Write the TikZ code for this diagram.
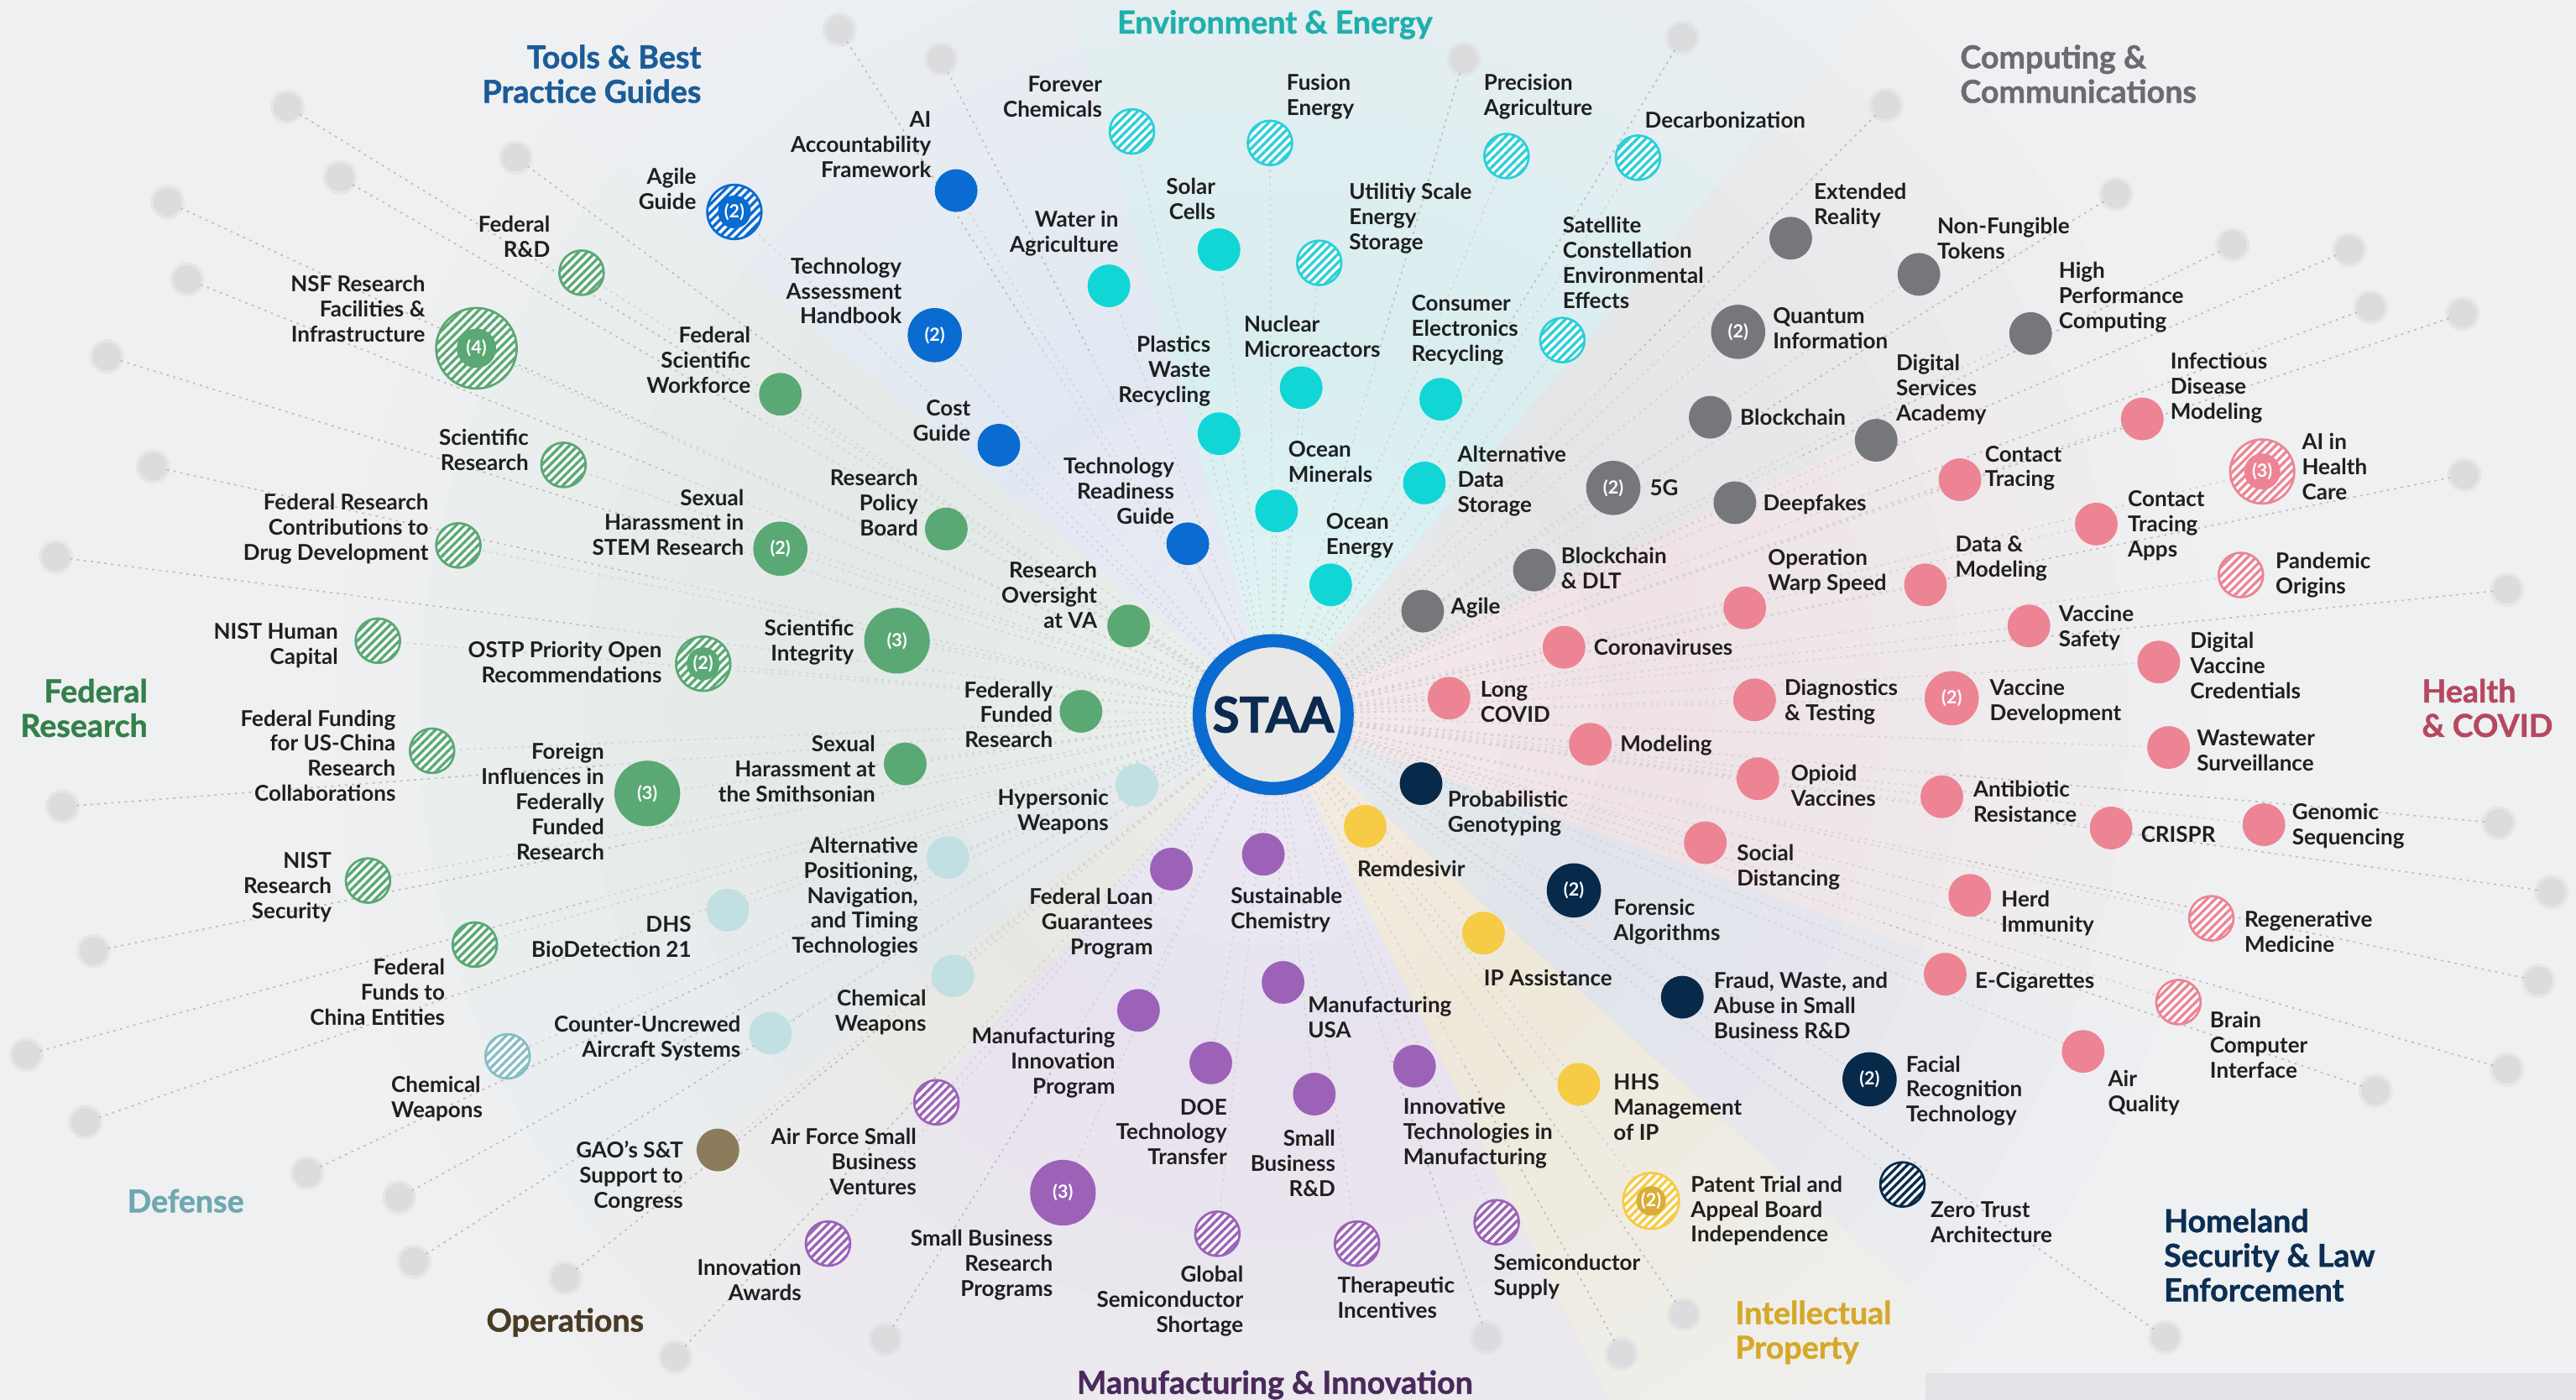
\documentclass[tikz,border=0pt]{standalone}
\usepackage{fontspec}
\setmainfont{Lato}
\newfontfamily\heavy{Lato}[BoldFeatures={FakeBold=1.2}]
\usetikzlibrary{patterns.meta,calc}
\definecolor{bgc}{HTML}{EFF0F2}
\definecolor{barc}{HTML}{E2E3E6}
\definecolor{txt}{HTML}{1F1F1F}
\definecolor{rayc}{HTML}{BCBDC0}
\definecolor{rayl}{HTML}{D2D3D6}
\definecolor{blobc}{HTML}{DCDCDF}
\definecolor{tblue}{HTML}{0A6BD0}
\definecolor{env}{HTML}{12D6D6}
\definecolor{envh}{HTML}{2CCFD8}
\definecolor{comp}{HTML}{76777B}
\definecolor{fr}{HTML}{5AA874}
\definecolor{hc}{HTML}{EC8494}
\definecolor{def}{HTML}{C2DFE3}
\definecolor{defh}{HTML}{86BCC5}
\definecolor{ops}{HTML}{8C7B5B}
\definecolor{mfg}{HTML}{9C62B8}
\definecolor{ip}{HTML}{F6CB45}
\definecolor{ipd}{HTML}{D9AE36}
\definecolor{hs}{HTML}{07294A}
\definecolor{staa}{HTML}{0B2A4F}
\definecolor{tTools}{HTML}{1B5C97}
\definecolor{tEnv}{HTML}{1FB0AD}
\definecolor{tComp}{HTML}{6B6C70}
\definecolor{tFR}{HTML}{33804A}
\definecolor{tHC}{HTML}{B5485F}
\definecolor{tDef}{HTML}{6EA8B1}
\definecolor{tOps}{HTML}{4A3B25}
\definecolor{tMfg}{HTML}{4A2A5C}
\definecolor{tIP}{HTML}{D6A829}
\definecolor{tHS}{HTML}{0B2E52}
\definecolor{wEnv}{HTML}{B8EEF0}
\definecolor{wTools}{HTML}{D3E2F2}
\definecolor{wFR}{HTML}{D5EADB}
\definecolor{wDef}{HTML}{D3E7EA}
\definecolor{wOps}{HTML}{E6DDCE}
\definecolor{wMfg}{HTML}{E6D3EE}
\definecolor{wIP}{HTML}{F5E6B5}
\definecolor{wHS}{HTML}{CCD5E0}
\definecolor{wHC}{HTML}{F6D3D9}
\definecolor{wComp}{HTML}{D5D6D9}
\newcommand\lf{\fontsize{13.3}{15.3}\selectfont\bfseries}
\newcommand\tf{\fontsize{19.2}{21}\selectfont\heavy\bfseries}
\newcommand\cf{\fontsize{11}{12}\selectfont\bfseries}
\newcommand\mywedge[3]{%
  \foreach \rr in {570,520,...,120}{%
    \fill[#1,opacity=0.055] (775,435) -- ++({-#2}:\rr) arc[start angle={-#2}, end angle={-#3}, radius=\rr] -- cycle;}}
\pgfdeclarelayer{back}
\pgfdeclarelayer{bg}
\pgfsetlayers{back,bg,main}
\tikzset{
  dot/.style={circle, inner sep=0pt, minimum size=26pt, fill=#1},
  hat/.style={circle, inner sep=0pt, minimum size=27pt, draw=#1, line width=1.4pt,
    preaction={fill=white},
    preaction={pattern={Lines[angle=45,distance=3.6pt,line width=1.7pt]}, pattern color=#1}},
  cnt/.style={text=white, font=\cf},
  lbL/.style={anchor=west, align=left, inner sep=0pt, font=\lf, text=txt},
  lbR/.style={anchor=east, align=right, inner sep=0pt, font=\lf, text=txt},
  ttl/.style={inner sep=0pt, font=\tf},
  ray/.style={draw=rayc, dash pattern=on 1.4pt off 2.8pt, line width=0.85pt},
  rayfaint/.style={draw=rayl, dash pattern=on 1.4pt off 2.8pt, line width=0.8pt},
  blob/.style={circle, inner sep=0pt, minimum size=17pt, fill=blobc,
    preaction={draw=blobc, line width=4pt, opacity=0.45}},
}
\begin{document}
\begin{tikzpicture}[x=1pt,y=-1pt]
\useasboundingbox (0,0) rectangle (1568,852);
\begin{pgfonlayer}{back}
\fill[bgc] (0,0) rectangle (1568,852);
\fill[barc] (1172,836) rectangle (1568,852);
\mywedge{wEnv}{50}{106}
\mywedge{wTools}{106}{140}
\mywedge{wFR}{140}{200}
\mywedge{wDef}{200}{217}
\mywedge{wOps}{217}{228}
\mywedge{wMfg}{228}{296}
\mywedge{wIP}{296}{318}
\mywedge{wHS}{318}{340}
\mywedge{wHC}{340}{385}
\mywedge{wComp}{25}{50}
\foreach \rr in {200,170,...,80}{\fill[white,opacity=0.08] (775,435) circle[radius=\rr];}
\end{pgfonlayer}

% centre
\node[circle, inner sep=0pt, minimum size=90pt, fill=black!9, draw=tblue, line width=8pt,
  text=staa, font=\fontsize{30}{31}\selectfont\heavy\bfseries] (c) at (775,435) {STAA};

% titles
\node[ttl, anchor=east, align=right, text=tTools] (T1) at (427,45) {Tools \& Best\\Practice Guides};
\node[ttl, text=tEnv] (T2) at (776,15) {Environment \& Energy};
\node[ttl, anchor=west, align=left, text=tComp] (T3) at (1193,45) {Computing \&\\Communications};
\node[ttl, anchor=east, align=right, text=tFR] (T4) at (90,431) {Federal\\Research};
\node[ttl, anchor=west, align=left, text=tHC] (T5) at (1474,431) {Health\\\& COVID};
\node[ttl, text=tDef] (T6) at (113,731) {Defense};
\node[ttl, text=tOps] (T7) at (344,805) {Operations};
\node[ttl, text=tMfg] (T8) at (776,843) {Manufacturing \& Innovation};
\node[ttl, anchor=west, align=left, text=tIP] (T9) at (1056,811) {Intellectual\\Property};
\node[ttl, anchor=west, align=left, text=tHS] (T10) at (1317,764) {Homeland\\Security \& Law\\Enforcement};

% Tools
\node[dot=tblue] (t1) at (582,116) {};
\node[lbR] (t1l) at (567,88) {AI\\Accountability\\Framework};
\node[hat=tblue, minimum size=33pt] (t2) at (447,129) {};
\node[dot=tblue, minimum size=20pt, cnt] (t2c) at (t2) {(2)};
\node[lbR] (t2l) at (424,115) {Agile\\Guide};
\node[dot=tblue, minimum size=33pt, cnt] (t3) at (569,204) {(2)};
\node[lbR] (t3l) at (549,177) {Technology\\Assessment\\Handbook};
\node[dot=tblue] (t4) at (608,271) {};
\node[lbR] (t4l) at (591,256) {Cost\\Guide};
\node[dot=tblue] (t5) at (723,331) {};
\node[lbR] (t5l) at (715,299) {Technology\\Readiness\\Guide};

% Federal research
\node[hat=fr] (f1) at (354,166) {};
\node[lbR] (f1l) at (335,144) {Federal\\R\&D};
\node[hat=fr, minimum size=49pt] (f2) at (290,212) {};
\node[dot=fr, minimum size=24pt, cnt] (f2c) at (f2) {(4)};
\node[lbR] (f2l) at (259,188) {NSF Research\\Facilities \&\\Infrastructure};
\node[dot=fr] (f3) at (475,240) {};
\node[lbR] (f3l) at (457,219) {Federal\\Scientific\\Workforce};
\node[hat=fr] (f4) at (343,283) {};
\node[lbR] (f4l) at (322,274) {Scientific\\Research};
\node[hat=fr] (f5) at (279,332) {};
\node[lbR] (f5l) at (261,322) {Federal Research\\Contributions to\\Drug Development};
\node[dot=fr, minimum size=33pt, cnt] (f6) at (475,334) {(2)};
\node[lbR] (f6l) at (453,318) {Sexual\\Harassment in\\STEM Research};
\node[dot=fr] (f7) at (576,322) {};
\node[lbR] (f7l) at (559,306) {Research\\Policy\\Board};
\node[hat=fr] (f8) at (230,390) {};
\node[lbR] (f8l) at (206,393) {NIST Human\\Capital};
\node[hat=fr, minimum size=33pt] (f9) at (428,404) {};
\node[dot=fr, minimum size=20pt, cnt] (f9c) at (f9) {(2)};
\node[lbR] (f9l) at (403,403) {OSTP Priority Open\\Recommendations};
\node[dot=fr, minimum size=40pt, cnt] (f10) at (546,390) {(3)};
\node[lbR] (f10l) at (520,391) {Scientific\\Integrity};
\node[dot=fr] (f11) at (687,381) {};
\node[lbR] (f11l) at (668,362) {Research\\Oversight\\at VA};
\node[hat=fr] (f12) at (263,457) {};
\node[lbR] (f12l) at (241,460) {Federal Funding\\for US-China\\Research\\Collaborations};
\node[dot=fr, minimum size=40pt, cnt] (f13) at (394,483) {(3)};
\node[lbR] (f13l) at (368,488) {Foreign\\Influences in\\Federally\\Funded\\Research};
\node[dot=fr] (f14) at (658,433) {};
\node[lbR] (f14l) at (641,435) {Federally\\Funded\\Research};
\node[dot=fr] (f15) at (551,465) {};
\node[lbR] (f15l) at (533,468) {Sexual\\Harassment at\\the Smithsonian};
\node[hat=fr] (f16) at (224,536) {};
\node[lbR] (f16l) at (202,540) {NIST\\Research\\Security};
\node[hat=fr] (f17) at (289,575) {};
\node[lbR] (f17l) at (271,604) {Federal\\Funds to\\China Entities};

% Defense
\node[dot=def] (d1) at (692,478) {};
\node[lbR] (d1l) at (675,494) {Hypersonic\\Weapons};
\node[dot=def] (d2) at (577,522) {};
\node[lbR] (d2l) at (559,546) {Alternative\\Positioning,\\Navigation,\\and Timing\\Technologies};
\node[dot=def] (d3) at (443,554) {};
\node[lbR] (d3l) at (421,570) {DHS\\BioDetection 21};
\node[dot=def] (d4) at (580,594) {};
\node[lbR] (d4l) at (564,616) {Chemical\\Weapons};
\node[dot=def] (d5) at (469,629) {};
\node[lbR] (d5l) at (451,632) {Counter-Uncrewed\\Aircraft Systems};
\node[hat=defh] (d6) at (309,643) {};
\node[lbL] (d6l) at (238,669) {Chemical\\Weapons};

% Operations
\node[dot=ops] (o1) at (437,700) {};
\node[lbR] (o1l) at (416,716) {GAO's S\&T\\Support to\\Congress};

% Manufacturing
\node[hat=mfg] (m1) at (570,671) {};
\node[lbR] (m1l) at (558,707) {Air Force Small\\Business\\Ventures};
\node[hat=mfg] (m2) at (504,757) {};
\node[lbR] (m2l) at (488,779) {Innovation\\Awards};
\node[dot=mfg] (m3) at (713,529) {};
\node[lbR] (m3l) at (702,562) {Federal Loan\\Guarantees\\Program};
\node[dot=mfg] (m4) at (769,520) {};
\node[lbL] (m4l) at (749,554) {Sustainable\\Chemistry};
\node[dot=mfg] (m5) at (693,615) {};
\node[lbR] (m5l) at (679,647) {Manufacturing\\Innovation\\Program};
\node[dot=mfg] (m6) at (781,598) {};
\node[lbL] (m6l) at (796,619) {Manufacturing\\USA};
\node[dot=mfg] (m7) at (737,647) {};
\node[lbR] (m7l) at (747,689) {DOE\\Technology\\Transfer};
\node[dot=mfg] (m8) at (800,666) {};
\node[lbR] (m8l) at (813,708) {Small\\Business\\R\&D};
\node[dot=mfg] (m9) at (861,649) {};
\node[lbL] (m9l) at (854,690) {Innovative\\Technologies in\\Manufacturing};
\node[dot=mfg, minimum size=40pt, cnt] (m10) at (647,726) {(3)};
\node[lbR] (m10l) at (641,770) {Small Business\\Research\\Programs};
\node[hat=mfg] (m11) at (741,751) {};
\node[lbR] (m11l) at (757,792) {Global\\Semiconductor\\Shortage};
\node[hat=mfg] (m12) at (826,757) {};
\node[lbL] (m12l) at (814,790) {Therapeutic\\Incentives};
\node[hat=mfg] (m13) at (911,744) {};
\node[lbL] (m13l) at (909,777) {Semiconductor\\Supply};

% Intellectual property
\node[dot=ip] (i1) at (831,503) {};
\node[lbL] (i1l) at (826,529) {Remdesivir};
\node[dot=ip] (i2) at (903,568) {};
\node[lbL] (i2l) at (903,595) {IP Assistance};
\node[dot=ip] (i3) at (961,660) {};
\node[lbL] (i3l) at (982,674) {HHS\\Management\\of IP};
\node[hat=ip, minimum size=34pt] (i4) at (1005,731) {};
\node[dot=ipd, minimum size=18pt, cnt] (i4c) at (i4) {(2)};
\node[lbL] (i4l) at (1029,737) {Patent Trial and\\Appeal Board\\Independence};

% Homeland security
\node[dot=hs] (h1) at (865,477) {};
\node[lbL] (h1l) at (881,495) {Probabilistic\\Genotyping};
\node[dot=hs, minimum size=33pt, cnt] (h2) at (958,542) {(2)};
\node[lbL] (h2l) at (982,561) {Forensic\\Algorithms};
\node[dot=hs] (h3) at (1024,607) {};
\node[lbL] (h3l) at (1043,612) {Fraud, Waste, and\\Abuse in Small\\Business R\&D};
\node[dot=hs, minimum size=33pt, cnt] (h4) at (1138,657) {(2)};
\node[lbL] (h4l) at (1160,664) {Facial\\Recognition\\Technology};
\node[hat=hs] (h5) at (1158,721) {};
\node[lbL] (h5l) at (1175,744) {Zero Trust\\Architecture};

% Health & COVID
\node[dot=hc] (c1) at (952,394) {};
\node[lbL] (c1l) at (970,394) {Coronaviruses};
\node[dot=hc] (c2) at (882,425) {};
\node[lbL] (c2l) at (901,427) {Long\\COVID};
\node[dot=hc] (c3) at (968,453) {};
\node[lbL] (c3l) at (986,454) {Modeling};
\node[dot=hc] (c4) at (1062,370) {};
\node[lbL] (c4l) at (1076,348) {Operation\\Warp Speed};
\node[dot=hc] (c5) at (1068,426) {};
\node[lbL] (c5l) at (1086,427) {Diagnostics\\\& Testing};
\node[dot=hc] (c6) at (1070,474) {};
\node[lbL] (c6l) at (1090,478) {Opioid\\Vaccines};
\node[dot=hc] (c7) at (1038,513) {};
\node[lbL] (c7l) at (1057,528) {Social\\Distancing};
\node[dot=hc] (c8) at (1193,292) {};
\node[lbL] (c8l) at (1208,285) {Contact\\Tracing};
\node[dot=hc] (c9) at (1172,356) {};
\node[lbL] (c9l) at (1190,340) {Data \&\\Modeling};
\node[dot=hc] (c10) at (1235,381) {};
\node[lbL] (c10l) at (1253,382) {Vaccine\\Safety};
\node[dot=hc, minimum size=33pt, cnt] (c11) at (1188,425) {(2)};
\node[lbL] (c11l) at (1211,427) {Vaccine\\Development};
\node[dot=hc] (c12) at (1182,485) {};
\node[lbL] (c12l) at (1201,488) {Antibiotic\\Resistance};
\node[dot=hc] (c13) at (1199,545) {};
\node[lbL] (c13l) at (1218,556) {Herd\\Immunity};
\node[dot=hc] (c14) at (1184,593) {};
\node[lbL] (c14l) at (1202,598) {E-Cigarettes};
\node[dot=hc] (c15) at (1268,640) {};
\node[lbL] (c15l) at (1283,665) {Air\\Quality};
\node[dot=hc] (c16) at (1304,255) {};
\node[lbL] (c16l) at (1321,236) {Infectious\\Disease\\Modeling};
\node[hat=hc, minimum size=39pt] (c17) at (1377,287) {};
\node[dot=hc, minimum size=22pt, cnt] (c17c) at (c17) {(3)};
\node[lbL] (c17l) at (1401,284) {AI in\\Health\\Care};
\node[dot=hc] (c18) at (1276,319) {};
\node[lbL] (c18l) at (1295,320) {Contact\\Tracing\\Apps};
\node[hat=hc] (c19) at (1364,350) {};
\node[lbL] (c19l) at (1385,350) {Pandemic\\Origins};
\node[dot=hc] (c20) at (1314,403) {};
\node[lbL] (c20l) at (1333,405) {Digital\\Vaccine\\Credentials};
\node[dot=hc] (c21) at (1320,455) {};
\node[lbL] (c21l) at (1337,457) {Wastewater\\Surveillance};
\node[dot=hc] (c22) at (1285,504) {};
\node[lbL] (c22l) at (1303,508) {CRISPR};
\node[dot=hc] (c23) at (1378,502) {};
\node[lbL] (c23l) at (1395,503) {Genomic\\Sequencing};
\node[hat=hc] (c24) at (1346,559) {};
\node[lbL] (c24l) at (1366,567) {Regenerative\\Medicine};
\node[hat=hc] (c25) at (1326,610) {};
\node[lbL] (c25l) at (1345,636) {Brain\\Computer\\Interface};

% Computing
\node[dot=comp] (p1) at (866,372) {};
\node[lbL] (p1l) at (883,370) {Agile};
\node[dot=comp] (p2) at (934,347) {};
\node[lbL] (p2l) at (950,346) {Blockchain\\\& DLT};
\node[dot=comp, minimum size=33pt, cnt] (p3) at (982,297) {(2)};
\node[lbL] (p3l) at (1004,297) {5G};
\node[dot=comp] (p4) at (1056,306) {};
\node[lbL] (p4l) at (1073,307) {Deepfakes};
\node[dot=comp] (p5) at (1041,254) {};
\node[lbL] (p5l) at (1059,254) {Blockchain};
\node[dot=comp, minimum size=33pt, cnt] (p6) at (1058,202) {(2)};
\node[lbL] (p6l) at (1079,200) {Quantum\\Information};
\node[dot=comp] (p7) at (1142,268) {};
\node[lbL] (p7l) at (1154,237) {Digital\\Services\\Academy};
\node[dot=comp] (p8) at (1090,145) {};
\node[lbL] (p8l) at (1104,125) {Extended\\Reality};
\node[dot=comp] (p9) at (1168,167) {};
\node[lbL] (p9l) at (1179,145) {Non-Fungible\\Tokens};
\node[dot=comp] (p10) at (1236,203) {};
\node[lbL] (p10l) at (1253,181) {High\\Performance\\Computing};

% Environment & energy
\node[hat=envh] (e1) at (689,80) {};
\node[lbR] (e1l) at (671,59) {Forever\\Chemicals};
\node[hat=envh] (e2) at (773,87) {};
\node[lbL] (e2l) at (783,59) {Fusion\\Energy};
\node[hat=envh] (e3) at (917,95) {};
\node[lbL] (e3l) at (903,59) {Precision\\Agriculture};
\node[hat=envh] (e4) at (997,96) {};
\node[lbL] (e4l) at (1001,73) {Decarbonization};
\node[dot=env] (e5) at (742,152) {};
\node[lbR] (e5l) at (740,121) {Solar\\Cells};
\node[dot=env] (e6) at (675,174) {};
\node[lbR] (e6l) at (681,142) {Water in\\Agriculture};
\node[hat=envh] (e7) at (803,160) {};
\node[lbL] (e7l) at (821,133) {Utilitiy Scale\\Energy\\Storage};
\node[hat=envh] (e8) at (951,207) {};
\node[lbL] (e8l) at (951,160) {Satellite\\Constellation\\Environmental\\Effects};
\node[dot=env] (e9) at (792,236) {};
\node[lbL] (e9l) at (757,205) {Nuclear\\Microreactors};
\node[dot=env] (e10) at (877,243) {};
\node[lbL] (e10l) at (859,201) {Consumer\\Electronics\\Recycling};
\node[dot=env] (e11) at (742,264) {};
\node[lbR] (e11l) at (737,226) {Plastics\\Waste\\Recycling};
\node[dot=env] (e12) at (777,311) {};
\node[lbL] (e12l) at (784,281) {Ocean\\Minerals};
\node[dot=env] (e13) at (867,294) {};
\node[lbL] (e13l) at (887,293) {Alternative\\Data\\Storage};
\node[dot=env] (e14) at (810,356) {};
\node[lbL] (e14l) at (807,326) {Ocean\\Energy};

% peripheral blobs and connectors
\begin{pgfonlayer}{bg}
\foreach \bx/\by [count=\k] in {511/18,573/36,891/36,1024/23,1148/64,1288/118,1359/149,1430/152,1443/187,1499/191,1500/289,1526/359,1521/501,1553/543,1545/597,1526/651,1446/664,1318/814,1025/800,987/824,905/814,539/815,411/826,344/778,252/768,243/729,187/714,52/683,16/642,57/579,38/491,34/339,93/284,65/217,114/170,102/123,175/65,207/108,314/96}{
  \node[blob] (b\k) at (\bx,\by) {};
  \coordinate (bm\k) at ($(b\k)!0.45!(c)$);
  \draw[ray] (b\k) -- (bm\k);
  \draw[rayfaint] (bm\k) -- (c);
}
\foreach \n in {t1,t2,t3,t4,t5,f1,f2,f3,f4,f5,f6,f7,f8,f9,f10,f11,f12,f13,f14,f15,f16,f17,d1,d2,d3,d4,d5,d6,o1,m1,m2,m3,m4,m5,m6,m7,m8,m9,m10,m11,m12,m13,i1,i2,i3,i4,h1,h2,h3,h4,h5,c1,c2,c3,c4,c5,c6,c7,c8,c9,c10,c11,c12,c13,c14,c15,c16,c17,c18,c19,c20,c21,c22,c23,c24,c25,p1,p2,p3,p4,p5,p6,p7,p8,p9,p10,e1,e2,e3,e4,e5,e6,e7,e8,e9,e10,e11,e12,e13,e14}{
  \draw[rayfaint] (c) -- (\n);
}
\end{pgfonlayer}
\end{tikzpicture}
\end{document}
